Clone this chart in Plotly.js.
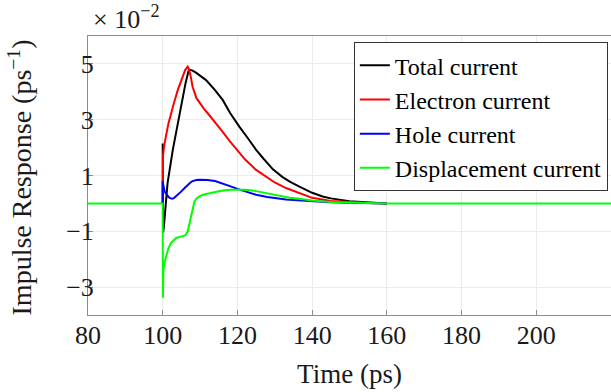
<!DOCTYPE html>
<html>
<head>
<meta charset="utf-8">
<script src="https://cdn.plot.ly/plotly-3.0.1.min.js"></script>
<style>html,body{margin:0;padding:0;background:#fff;}#chart{width:611px;height:392px;}</style>
</head>
<body>
<div id="chart"></div>
<script>
// Time axes (ps) and series values (x 10^-2 ps^-1)
const tTotal = [100, 100, 100.1, 100.3, 101.3, 102.7, 104.3, 106.1, 107, 108, 109, 110, 111.6, 114, 116.1, 118, 120.5, 123, 125, 127, 129.5, 132, 134, 136.6, 138.4, 140, 142.8, 145, 150, 155, 160];
const total  = [0, 2.15, -1.05, -0.85, 0.73, 1.92, 3.11, 4.3, 4.8, 4.76, 4.68, 4.58, 4.42, 4.06, 3.7, 3.25, 2.75, 2.3, 1.92, 1.6, 1.22, 0.95, 0.78, 0.6, 0.49, 0.38, 0.25, 0.18, 0.08, 0.03, 0];

const tElectron = [100, 100, 100.1, 100.5, 101, 101.5, 102, 102.5, 103, 104, 105, 106, 106.7, 107, 107.5, 108, 109, 110, 111, 112, 114, 116, 118, 120, 122, 125, 128, 130, 133, 136, 140, 145, 150, 155, 160];
const electron  = [0, 1.6, 1.75, 2.15, 2.55, 2.85, 3.1, 3.38, 3.6, 4.05, 4.45, 4.78, 4.9, 4.82, 4.55, 4.18, 3.78, 3.57, 3.4, 3.24, 2.92, 2.57, 2.22, 1.88, 1.58, 1.2, 0.92, 0.75, 0.55, 0.39, 0.2, 0.09, 0.04, 0.015, 0];

const tHole = [100, 100, 100.1, 100.5, 101, 101.5, 102, 102.5, 103, 104, 105, 106, 106.7, 107, 107.5, 108, 109, 110, 111, 112, 114, 116, 118, 120, 122, 125, 128, 130, 133, 136, 140, 145, 150, 155, 160];
const hole  = [0, 0.8, 0.7, 0.43, 0.32, 0.24, 0.19, 0.17, 0.19, 0.3, 0.43, 0.57, 0.66, 0.71, 0.76, 0.8, 0.84, 0.85, 0.85, 0.84, 0.8, 0.72, 0.62, 0.52, 0.43, 0.31, 0.23, 0.19, 0.14, 0.11, 0.07, 0.04, 0.02, 0.01, 0];

const tDisp = [80, 100, 100.05, 100.2, 100.5, 100.9, 101.5, 102.2, 103, 103.6, 104.5, 105.4, 106, 106.7, 107.2, 107.6, 108, 108.5, 109, 109.8, 111, 113.4, 116, 118, 120, 122.3, 125, 126.8, 129, 131.2, 134, 136.6, 140, 145, 150, 155, 160, 220];
const disp  = [0, 0, -3.38, -2.37, -2.1, -1.89, -1.62, -1.42, -1.3, -1.24, -1.2, -1.18, -1.15, -1.0, -0.75, -0.46, -0.22, 0.07, 0.17, 0.25, 0.32, 0.39, 0.46, 0.49, 0.5, 0.49, 0.44, 0.39, 0.32, 0.27, 0.2, 0.17, 0.1, 0.05, 0.02, 0.01, 0, 0];

const names = ["Total current", "Electron current", "Hole current", "Displacement current"];
const xTicks = [80, 100, 120, 140, 160, 180, 200];
const yTicks = [-3, -1, 1, 3, 5];
const yTickText = ["\u22123", "\u22121", "1", "3", "5"];

const FONT = "Liberation Serif";
const mk = (x, y, name, color) => ({x: x, y: y, name: name, type: "scatter", mode: "lines", line: {color: color, width: 2}});
const data = [
  mk(tTotal, total, names[0], "#000000"),
  mk(tElectron, electron, names[1], "#ff0000"),
  mk(tHole, hole, names[2], "#0000ff"),
  mk(tDisp, disp, names[3], "#00ff00")
];

function axisBase() {
  return {
    showline: true, linecolor: "#8c8c8c", linewidth: 1, mirror: true,
    ticks: "inside", ticklen: 5, tickcolor: "#8c8c8c",
    showgrid: true, gridcolor: "#ebebeb", gridwidth: 1, zeroline: false,
    tickfont: {family: FONT, size: 26, color: "#1a1a1a"}
  };
}
const xa = axisBase();
xa.range = [80, 220];
xa.tickvals = xTicks;
xa.ticklabelstandoff = -3;
xa.title = {text: "Time (ps)", font: {family: FONT, size: 27, color: "#1a1a1a"}, standoff: 14};
const ya = axisBase();
ya.range = [-4, 6];
ya.tickvals = yTicks;
ya.ticktext = yTickText;
ya.ticklabelstandoff = -12;

const layout = {
  width: 611, height: 392,
  margin: {l: 88, r: 0, t: 36, b: 77},
  paper_bgcolor: "#ffffff", plot_bgcolor: "#ffffff",
  font: {family: FONT, size: 26, color: "#1a1a1a"},
  showlegend: true,
  xaxis: xa,
  yaxis: ya,
  legend: {
    x: 0.994, xanchor: "right", y: 0.978, yanchor: "top",
    bgcolor: "#ffffff", bordercolor: "#333333", borderwidth: 1,
    font: {family: FONT, size: 24, color: "#000000"},
    itemwidth: 30, tracegroupgap: 0
  },
  annotations: [
    {
      xref: "paper", yref: "paper", x: 0.005, y: 1.0, xanchor: "left", yanchor: "bottom",
      text: "\u00d7 10<sup>\u22122</sup>", showarrow: false,
      font: {family: FONT, size: 26, color: "#1a1a1a"}
    },
    {
      xref: "paper", yref: "paper", x: -0.13, y: 0.493, xanchor: "center", yanchor: "middle",
      textangle: -90, text: "Impulse Response (ps<sup>\u22121</sup>)", showarrow: false,
      font: {family: FONT, size: 28, color: "#1a1a1a"}
    }
  ]
};

Plotly.newPlot("chart", data, layout, {displayModeBar: false, staticPlot: true});
</script>
</body>
</html>
